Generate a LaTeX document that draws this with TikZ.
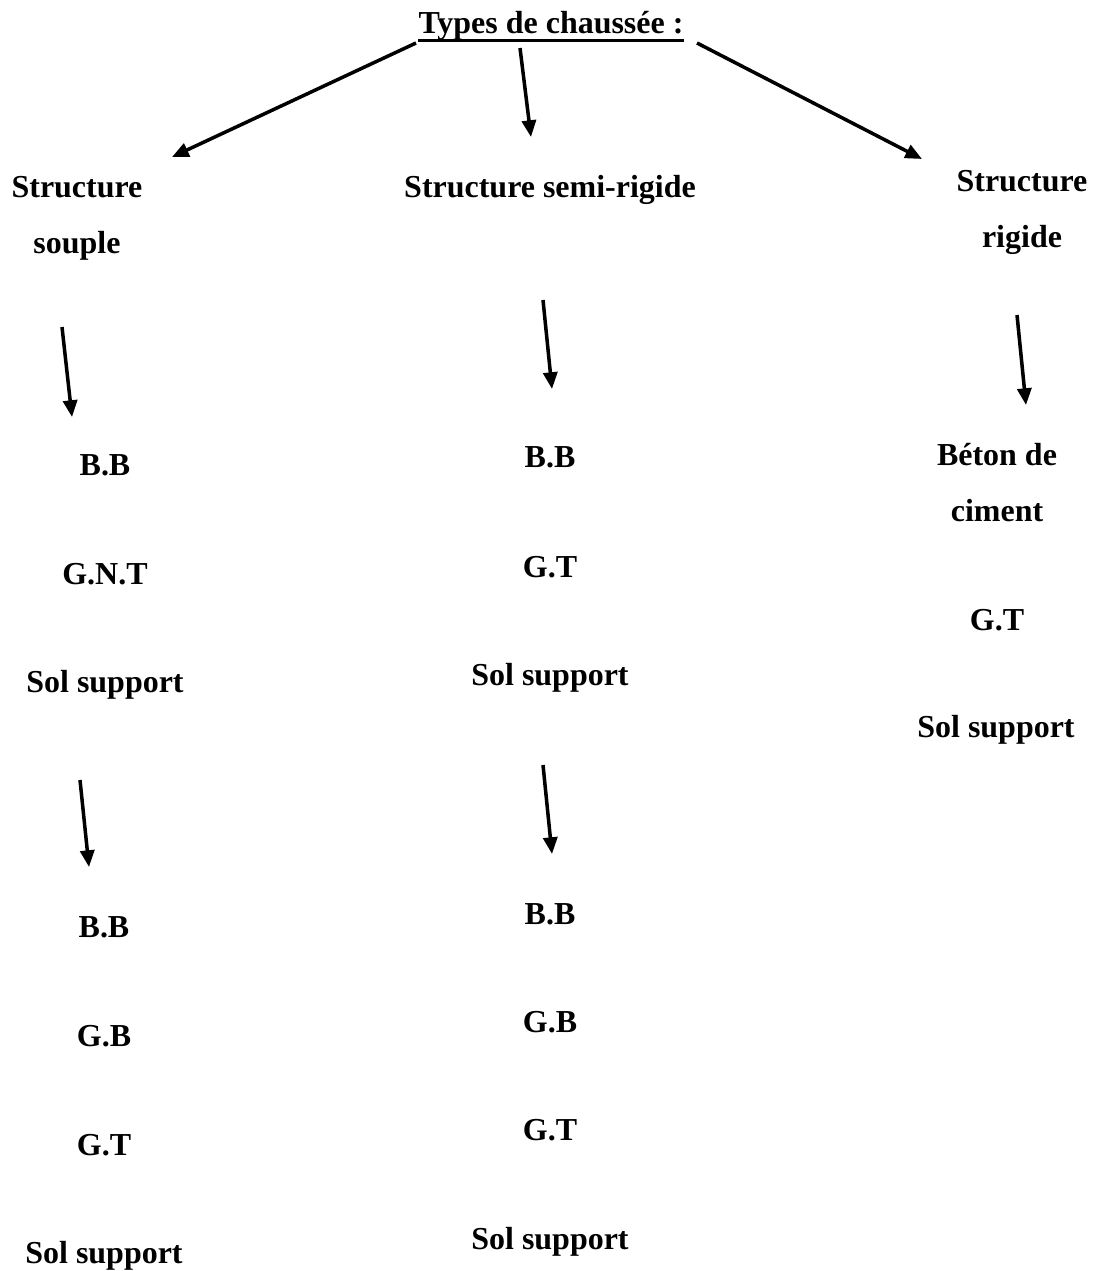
\documentclass[tikz,border=0pt]{standalone}
\usepackage{fontspec}
\setmainfont{Liberation Serif}
\usetikzlibrary{arrows.meta}

\begin{document}
\begin{tikzpicture}[x = 0.02cm, y = -0.02cm,
		lbl/.style = {font = \fontsize{18.2}{31.5}\selectfont\bfseries, anchor = base, inner sep = 0pt, align = center},
		fleche/.style = {-{Triangle[length = 9.5pt, width = 8pt]}, line width = 2pt}]
			\useasboundingbox (0,0) rectangle (1096,1271);

			\node [lbl] (titre) at (551,33) {Types de chaussée :};
			\draw [line width = 1.5pt] ([yshift = -4.2pt]titre.base west) -- ([yshift = -4.2pt]titre.base east);

			\node [lbl] (souple) at (77,253) {Structure\\souple};
			\node [lbl] (semi) at (550,197) {Structure semi-rigide};
			\node [lbl] (rigide) at (1022,247) {Structure\\rigide};

			\node [lbl] (s1bb) at (105,475) {B.B};
			\node [lbl] (s1gnt) at (105,584) {G.N.T};
			\node [lbl] (s1sol) at (105,692) {Sol support};
			\node [lbl] (s2bb) at (104,937) {B.B};
			\node [lbl] (s2gb) at (104,1046) {G.B};
			\node [lbl] (s2gt) at (104,1155) {G.T};
			\node [lbl] (s2sol) at (104,1263) {Sol support};

			\node [lbl] (m1bb) at (550,467) {B.B};
			\node [lbl] (m1gt) at (550,577) {G.T};
			\node [lbl] (m1sol) at (550,685) {Sol support};
			\node [lbl] (m2bb) at (550,924) {B.B};
			\node [lbl] (m2gb) at (550,1032) {G.B};
			\node [lbl] (m2gt) at (550,1140) {G.T};
			\node [lbl] (m2sol) at (550,1249) {Sol support};

			\node [lbl] (rbeton) at (997,521) {Béton de\\ciment};
			\node [lbl] (rgt) at (997,630) {G.T};
			\node [lbl] (rsol) at (996,737) {Sol support};

			\coordinate (titreG) at (416,43);
			\coordinate (titreM) at (520,48);
			\coordinate (titreD) at (697,43);
			\coordinate (soupleH) at (172,157);
			\coordinate (semiH) at (531,137);
			\coordinate (rigideH) at (922,159);
			\coordinate (soupleB) at (62,327);
			\coordinate (s1H) at (72,417);
			\coordinate (s1B) at (80,780);
			\coordinate (s2H) at (89,867);
			\coordinate (semiB) at (543,300);
			\coordinate (m1H) at (552,389);
			\coordinate (m1B) at (543,765);
			\coordinate (m2H) at (552,854);
			\coordinate (rigideB) at (1017,315);
			\coordinate (rH) at (1026,405);

			\begin{scope}[fleche]
				\draw (titreG) -- (soupleH);
				\draw (titreM) -- (semiH);
				\draw (titreD) -- (rigideH);
				\draw (soupleB) -- (s1H);
				\draw (s1B) -- (s2H);
				\draw (semiB) -- (m1H);
				\draw (m1B) -- (m2H);
				\draw (rigideB) -- (rH);
			\end{scope}
		\end{tikzpicture}
\end{document}
